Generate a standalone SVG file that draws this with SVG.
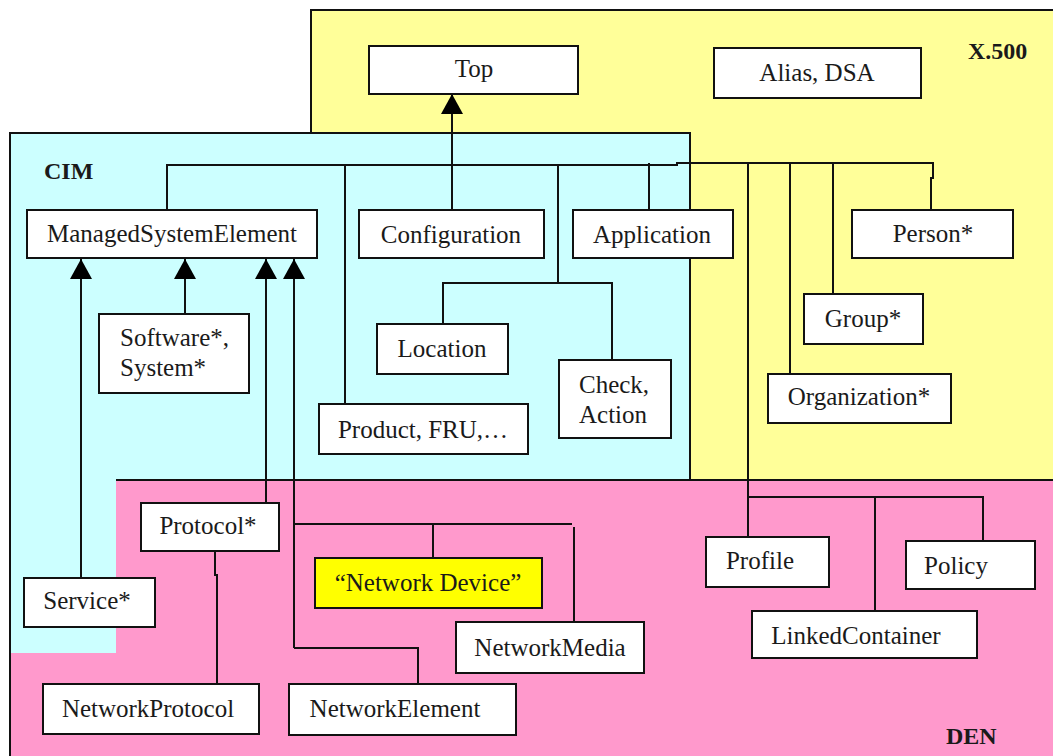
<svg xmlns="http://www.w3.org/2000/svg" width="1053" height="756" viewBox="0 0 1053 756">
<style>
.node rect{fill:#ffffff;stroke:#111;stroke-width:2}
.node text{font-family:"Liberation Serif","Times New Roman",serif;font-size:25px;fill:#1a1a1a;text-anchor:middle}
.lbl{font-family:"Liberation Serif","Times New Roman",serif;font-size:24px;font-weight:bold;fill:#1a1a1a}
.conn path{fill:none;stroke:#111;stroke-width:2}
.border{fill:none;stroke:#111;stroke-width:2}
</style>
<defs>
<marker id="tri" viewBox="0 0 20 22" refX="20" refY="11" markerWidth="20" markerHeight="22" markerUnits="userSpaceOnUse" orient="auto">
<path d="M0,0 L20,11 L0,22 z" fill="#000"/>
</marker>
</defs>
<rect width="1053" height="756" fill="#ffffff"/>
<g id="regions">
<rect x="311" y="10" width="742" height="470" fill="#ffff99"/>
<rect x="10" y="133" width="680" height="347" fill="#ccffff"/>
<rect x="9" y="480" width="1044" height="276" fill="#ff99cc"/>
<rect x="11" y="480" width="105" height="173" fill="#ccffff"/>
<path class="border" d="M311,133 V10 H1053"/>
<path class="border" d="M10,756 V133 H690 V480"/>
<path class="border" d="M116,480 H1053"/>
<text class="lbl" x="44" y="179">CIM</text>
<text class="lbl" x="968" y="59">X.500</text>
<text class="lbl" x="946" y="744">DEN</text>
</g>
<g id="connectors" class="conn">
<path d="M452,210 V94" marker-end="url(#tri)"/>
<path d="M167,210 V165 H677 V163 H933 V178 H931 V210"/>
<path d="M345,165 V404"/>
<path d="M558,165 V283"/>
<path d="M443,324 V283 H612 V360"/>
<path d="M649,163 V210"/>
<path d="M748,163 V537"/>
<path d="M790,163 V374"/>
<path d="M833,163 V294"/>
<path d="M748,497 H983 V541"/>
<path d="M875,497 V611"/>
<path d="M81,578 V259" marker-end="url(#tri)"/>
<path d="M185,314 V259" marker-end="url(#tri)"/>
<path d="M266,503 V259" marker-end="url(#tri)"/>
<path d="M294,648 V259" marker-end="url(#tri)"/>
<path d="M294,648 H418 V684"/>
<path d="M294,524 H572"/>
<path d="M433,524 V558"/>
<path d="M574,527 V622"/>
<path d="M215,551 V575 H217 V684"/>
</g>
<g id="n-top" class="node"><rect x="369" y="46" width="209" height="48"/><text x="474" y="77">Top</text></g>
<g id="n-alias" class="node"><rect x="714" y="48" width="207" height="50"/><text x="817" y="81">Alias, DSA</text></g>
<g id="n-mse" class="node"><rect x="27" y="210" width="290" height="48"/><text x="172" y="242">ManagedSystemElement</text></g>
<g id="n-config" class="node"><rect x="359" y="210" width="185" height="48"/><text x="451" y="243">Configuration</text></g>
<g id="n-app" class="node"><rect x="573" y="210" width="160" height="48"/><text x="652" y="243">Application</text></g>
<g id="n-person" class="node"><rect x="852" y="210" width="161" height="48"/><text x="933" y="242">Person*</text></g>
<g id="n-software" class="node"><rect x="99" y="314" width="150" height="79"/><text x="120" y="346" style="text-anchor:start">Software*,</text><text x="120" y="376" style="text-anchor:start">System*</text></g>
<g id="n-location" class="node"><rect x="377" y="324" width="131" height="50"/><text x="442" y="357">Location</text></g>
<g id="n-check" class="node"><rect x="559" y="360" width="112" height="78"/><text x="579" y="393" style="text-anchor:start">Check,</text><text x="579" y="423" style="text-anchor:start">Action</text></g>
<g id="n-product" class="node"><rect x="319" y="404" width="209" height="50"/><text x="423" y="438">Product, FRU,…</text></g>
<g id="n-group" class="node"><rect x="804" y="294" width="119" height="50"/><text x="863" y="327">Group*</text></g>
<g id="n-org" class="node"><rect x="768" y="374" width="183" height="49"/><text x="859" y="405">Organization*</text></g>
<g id="n-protocol" class="node"><rect x="141" y="503" width="138" height="48"/><text x="208" y="534">Protocol*</text></g>
<g id="n-service" class="node"><rect x="24" y="578" width="131" height="49"/><text x="87" y="609">Service*</text></g>
<g id="n-netdevice" class="node"><rect x="315" y="558" width="227" height="50" style="fill:#ffff00"/><text x="428" y="591">“Network Device”</text></g>
<g id="n-netmedia" class="node"><rect x="456" y="622" width="188" height="51"/><text x="550" y="656">NetworkMedia</text></g>
<g id="n-netprotocol" class="node"><rect x="43" y="684" width="216" height="50"/><text x="148" y="717">NetworkProtocol</text></g>
<g id="n-netelement" class="node"><rect x="289" y="684" width="227" height="51"/><text x="395" y="717">NetworkElement</text></g>
<g id="n-profile" class="node"><rect x="706" y="537" width="123" height="50"/><text x="760" y="569">Profile</text></g>
<g id="n-policy" class="node"><rect x="906" y="541" width="129" height="48"/><text x="956" y="574">Policy</text></g>
<g id="n-linked" class="node"><rect x="752" y="611" width="225" height="47"/><text x="856" y="644">LinkedContainer</text></g>
</svg>
